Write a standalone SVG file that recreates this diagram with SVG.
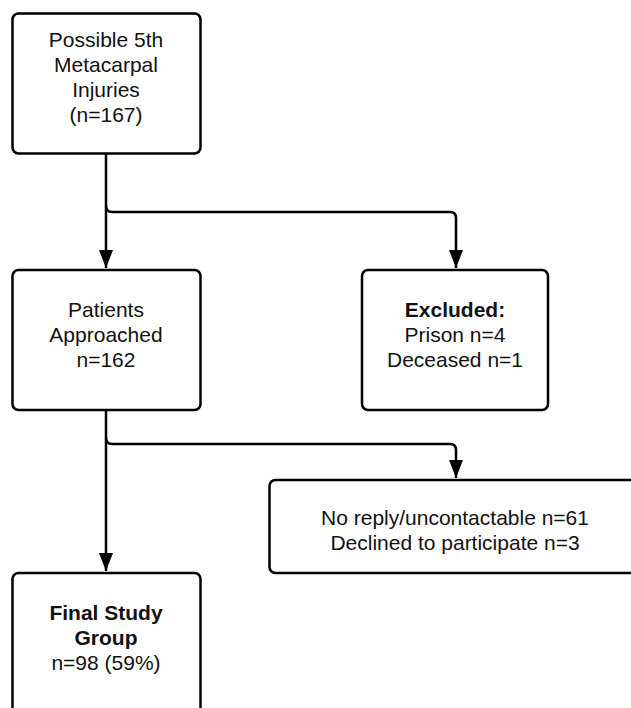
<svg xmlns="http://www.w3.org/2000/svg" width="631" height="708" viewBox="0 0 631 708">
<style>
.box{fill:#fff;stroke:#000;stroke-width:2.5}
.t{font-family:"Liberation Sans",Arial,sans-serif;font-size:21px;fill:#111;text-anchor:middle}
.b{font-weight:bold}
.c{fill:none;stroke:#000;stroke-width:2.5}
</style>
<defs>
<marker id="ah" markerUnits="userSpaceOnUse" markerWidth="18" markerHeight="19" refX="18" refY="7" orient="auto">
<path d="M0,0 L18,7 L0,14 Z" fill="#000"/>
</marker>
</defs>
<rect width="631" height="708" fill="#fff"/>
<g id="connectors">
<path class="c" d="M106,153 V268" marker-end="url(#ah)"/>
<path class="c" d="M106,206 Q106,212 112,212 H450 Q456,212 456,218 V268" marker-end="url(#ah)"/>
<path class="c" d="M106,410 V571" marker-end="url(#ah)"/>
<path class="c" d="M106,438 Q106,444 112,444 H450 Q456,444 456,450 V478" marker-end="url(#ah)"/>
</g>
<g id="n1">
<rect class="box" x="12.5" y="13.5" width="188" height="140" rx="6"/>
<text class="t" x="106" y="47">Possible 5th</text>
<text class="t" x="106" y="72">Metacarpal</text>
<text class="t" x="106" y="97">Injuries</text>
<text class="t" x="106" y="122">(n=167)</text>
</g>
<g id="n2">
<rect class="box" x="12.5" y="270" width="188" height="140" rx="6"/>
<text class="t" x="106" y="317">Patients</text>
<text class="t" x="106" y="342">Approached</text>
<text class="t" x="106" y="367">n=162</text>
</g>
<g id="n3">
<rect class="box" x="362" y="270" width="186" height="140" rx="6"/>
<text class="t b" x="455" y="317">Excluded:</text>
<text class="t" x="455" y="342">Prison n=4</text>
<text class="t" x="455" y="367">Deceased n=1</text>
</g>
<g id="n4">
<rect class="box" x="269.5" y="480" width="372" height="93" rx="6"/>
<text class="t" x="455" y="525">No reply/uncontactable n=61</text>
<text class="t" x="455" y="550">Declined to participate n=3</text>
</g>
<g id="n5">
<rect class="box" x="12.5" y="573" width="188" height="150" rx="6"/>
<text class="t b" x="106" y="620">Final Study</text>
<text class="t b" x="106" y="645">Group</text>
<text class="t" x="106" y="670">n=98 (59%)</text>
</g>
</svg>
